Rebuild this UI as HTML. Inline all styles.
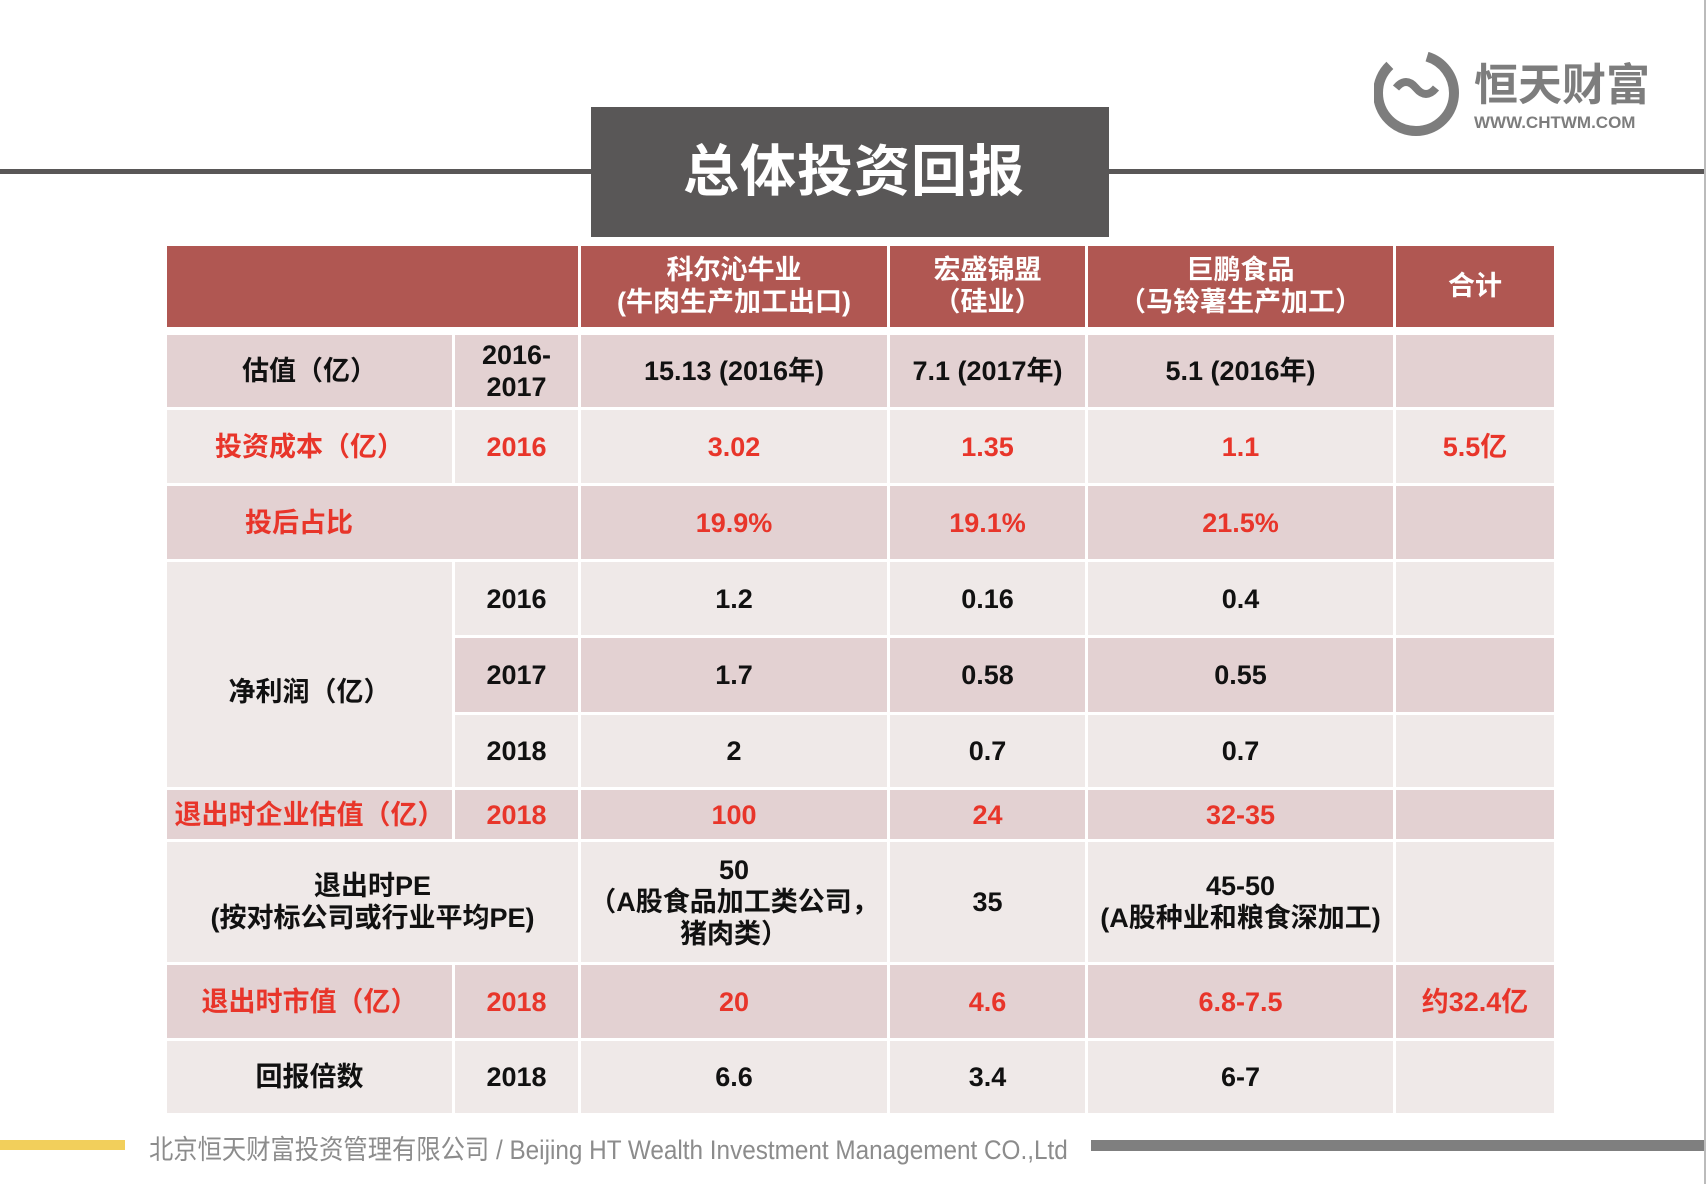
<!DOCTYPE html>
<html><head><meta charset="utf-8">
<style>
*{margin:0;padding:0;box-sizing:border-box}
body{width:1706px;height:1184px;background:#fff;position:relative;overflow:hidden;font-family:"Liberation Sans","Noto Sans CJK SC",sans-serif}
.hline{position:absolute;left:0;top:169px;width:1706px;height:5px;background:#595757}
.title{position:absolute;left:591px;top:107px;width:518px;height:130px;background:#595757;color:#fff;font:bold 56px "Liberation Sans","Noto Sans CJK SC",sans-serif;text-align:center;line-height:130px;letter-spacing:1px;padding-left:8px}
table{position:absolute;left:164px;top:243px;border-collapse:collapse;table-layout:fixed}
td{border:3px solid #fff;text-align:center;vertical-align:middle;font-weight:bold;font-size:27px;color:#111;line-height:32px}
tr.h td{background:#b05752;color:#fff;font-size:27px;border-bottom-width:8px}
tr.d td{background:#e3d1d2}
tr.l td{background:#efe9e8}
td.lt{background:#efe9e8 !important;padding-top:34px}
.r{color:#e8352a}
.logo{position:absolute;left:1374px;top:48px;width:300px;height:90px}
.foot-y{position:absolute;left:0;top:1140px;width:125px;height:10px;background:#f2cf5b}
.foot-g{position:absolute;left:1091px;top:1140px;width:615px;height:11px;background:#7f7f7f}
.foot-t{position:absolute;left:149px;top:1128px;font-size:27px;color:#8c8c8c;white-space:nowrap;transform-origin:left center;transform:scaleX(0.9)}
.vline{position:absolute;right:0;top:0;width:2px;height:1184px;background:#bbb}
</style></head><body>
<div class="hline"></div>
<div class="title">总体投资回报</div>
<svg class="logo" viewBox="0 0 300 90">
 <circle cx="42" cy="45" r="38" fill="none" stroke="#7d7d7d" stroke-width="10" stroke-dasharray="150 40"/>
 <path d="M22 40 q10 -12 20 0 q10 12 20 0" fill="none" stroke="#7d7d7d" stroke-width="8"/>
 <text x="100" y="52" font-family="Liberation Sans,Noto Sans CJK SC,sans-serif" font-weight="bold" font-size="44" fill="#7d7d7d">恒天财富</text>
 <text x="100" y="80" font-family="Liberation Sans,sans-serif" font-weight="bold" font-size="17" fill="#7d7d7d">WWW.CHTWM.COM</text>
</svg>
<table>
<colgroup><col style="width:288px"><col style="width:126px"><col style="width:309px"><col style="width:198px"><col style="width:308px"><col style="width:161px"></colgroup>
<tr class="h" style="height:86px"><td colspan="2"></td><td>科尔沁牛业<br>(牛肉生产加工出口)</td><td>宏盛锦盟<br>（硅业）</td><td>巨鹏食品<br>（马铃薯生产加工）</td><td>合计</td></tr>
<tr class="d" style="height:78px"><td>估值（亿）</td><td>2016-<br>2017</td><td>15.13 (2016年)</td><td>7.1 (2017年)</td><td>5.1 (2016年)</td><td></td></tr>
<tr class="l r" style="height:76px"><td class="r">投资成本（亿）</td><td class="r">2016</td><td class="r">3.02</td><td class="r">1.35</td><td class="r">1.1</td><td class="r">5.5亿</td></tr>
<tr class="d" style="height:76px"><td colspan="2" class="r" style="text-align:left;padding-left:78px">投后占比</td><td class="r">19.9%</td><td class="r">19.1%</td><td class="r">21.5%</td><td></td></tr>
<tr class="l" style="height:76px"><td rowspan="3" class="lt">净利润（亿）</td><td>2016</td><td>1.2</td><td>0.16</td><td>0.4</td><td></td></tr>
<tr class="d" style="height:77px"><td>2017</td><td>1.7</td><td>0.58</td><td>0.55</td><td></td></tr>
<tr class="l" style="height:75px"><td>2018</td><td>2</td><td>0.7</td><td>0.7</td><td></td></tr>
<tr class="d" style="height:52px"><td class="r">退出时企业估值（亿）</td><td class="r">2018</td><td class="r">100</td><td class="r">24</td><td class="r">32-35</td><td></td></tr>
<tr class="l" style="height:123px"><td colspan="2">退出时PE<br>(按对标公司或行业平均PE)</td><td>50<br>（A股食品加工类公司，<br>猪肉类）</td><td>35</td><td>45-50<br>(A股种业和粮食深加工)</td><td></td></tr>
<tr class="d" style="height:76px"><td class="r">退出时市值（亿）</td><td class="r">2018</td><td class="r">20</td><td class="r">4.6</td><td class="r">6.8-7.5</td><td class="r">约32.4亿</td></tr>
<tr class="l" style="height:75px"><td>回报倍数</td><td>2018</td><td>6.6</td><td>3.4</td><td>6-7</td><td></td></tr>
</table>
<div class="foot-y"></div>
<div class="foot-t">北京恒天财富投资管理有限公司 / Beijing HT Wealth Investment Management CO.,Ltd</div>
<div class="foot-g"></div>
<div class="vline"></div>
</body></html>
